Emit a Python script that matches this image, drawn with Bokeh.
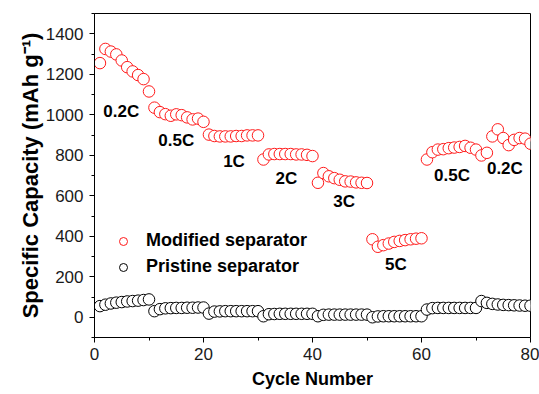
from bokeh.plotting import figure
from bokeh.models import ColumnDataSource, Legend, LegendItem, Label, FixedTicker, Range1d
from bokeh.embed import file_html
from bokeh.resources import INLINE

cycles = list(range(1, 81))

modified = [
    1255, 1325, 1312, 1298, 1268, 1235, 1214, 1196, 1176, 1115,
    1035, 1013, 1003, 995, 1002, 998, 987, 977, 981, 965,
    902, 895, 893, 893, 893, 895, 895, 898, 898, 898,
    779, 804, 806, 806, 806, 806, 804, 804, 802, 796,
    664, 712, 696, 687, 679, 671, 670, 666, 664, 663,
    385, 348, 356, 364, 372, 377, 381, 385, 388, 390,
    779, 815, 828, 830, 835, 838, 841, 846, 837, 828,
    799, 812, 893, 928, 885, 850, 876, 885, 882, 857,
]

pristine = [
    55, 62, 68, 72, 75, 78, 80, 82, 85, 88,
    30, 40, 44, 45, 46, 46, 47, 47, 48, 48,
    18, 28, 29, 30, 30, 30, 30, 30, 30, 30,
    5, 15, 16, 17, 17, 17, 17, 17, 17, 17,
    5, 12, 13, 13, 13, 13, 13, 13, 13, 13,
    0, 4, 5, 5, 5, 5, 5, 5, 5, 5,
    38, 45, 46, 46, 46, 46, 46, 46, 46, 46,
    80, 71, 66, 63, 61, 60, 59, 58, 57, 57,
]

series_names = ["Modified separator", "Pristine separator"]
x_title = "Cycle Number"
y_title = "Specific Capacity (mAh g\u207b\u00b9)"

rate_labels = ["0.2C", "0.5C", "1C", "2C", "3C", "5C", "0.5C", "0.2C"]
rate_label_x = [4.9, 15.0, 25.6, 35.2, 45.8, 55.3, 65.6, 75.3]
rate_label_y = [1017, 873, 768, 683, 574, 259, 698, 733]

x_ticks = [0, 20, 40, 60, 80]
x_minor = [10, 30, 50, 70]
y_ticks = [0, 200, 400, 600, 800, 1000, 1200, 1400]
y_minor = [-100, 100, 300, 500, 700, 900, 1100, 1300, 1500]

FONT = "Liberation Sans"

p = figure(width=539, height=394, output_backend="svg", toolbar_location=None,
           x_range=Range1d(0, 80), y_range=Range1d(-100, 1500),
           min_border_left=94, min_border_right=9, min_border_top=13, min_border_bottom=57)
p.background_fill_color = "white"
p.border_fill_color = "white"
p.outline_line_color = "black"
p.outline_line_width = 1
p.xgrid.visible = False
p.ygrid.visible = False

for ax, maj, mnr in [(p.xaxis[0], x_ticks, x_minor), (p.yaxis[0], y_ticks, y_minor)]:
    ax.ticker = FixedTicker(ticks=maj, minor_ticks=mnr)
    ax.axis_line_color = "black"
    ax.axis_line_width = 1
    ax.major_tick_line_color = "black"
    ax.minor_tick_line_color = "black"
    ax.major_tick_in = 0
    ax.major_tick_out = 5
    ax.minor_tick_in = 0
    ax.minor_tick_out = 3
    ax.major_label_text_font = FONT
    ax.major_label_text_font_size = "17px"
    ax.major_label_text_color = "#1a1a1a"
    ax.major_label_standoff = 5
    ax.axis_label_text_font = FONT
    ax.axis_label_text_font_style = "bold"
    ax.axis_label_text_color = "black"

p.xaxis[0].axis_label = x_title
p.xaxis[0].axis_label_text_font_size = "18px"
p.xaxis[0].axis_label_standoff = 6
p.yaxis[0].axis_label = y_title
p.yaxis[0].axis_label_text_font_size = "22px"
p.yaxis[0].axis_label_standoff = 0
p.yaxis[0].major_label_standoff = 6

src_p = ColumnDataSource(dict(x=cycles, y=pristine))
src_m = ColumnDataSource(dict(x=cycles, y=modified))
r_p = p.scatter("x", "y", source=src_p, size=11.5, marker="circle",
                line_color="black", fill_color="white", line_width=1)
r_m = p.scatter("x", "y", source=src_m, size=11.5, marker="circle",
                line_color="#ff1a1a", fill_color="white", line_width=1)

legend = Legend(items=[LegendItem(label=series_names[0], renderers=[r_m]),
                       LegendItem(label=series_names[1], renderers=[r_p])],
                location=(19, 60), orientation="vertical",
                glyph_width=20, glyph_height=20, label_height=20, spacing=5,
                padding=0, margin=0, label_standoff=13,
                label_text_font=FONT, label_text_font_size="18px",
                label_text_font_style="bold", label_text_color="black",
                border_line_alpha=0, background_fill_alpha=0)
p.add_layout(legend)

for t, lx, ly in zip(rate_labels, rate_label_x, rate_label_y):
    p.add_layout(Label(x=lx, y=ly, text=t, text_align="center", text_baseline="middle",
                       text_font=FONT, text_font_size="17px", text_font_style="bold",
                       text_color="black"))

open("out.html", "w").write(file_html(p, INLINE))
